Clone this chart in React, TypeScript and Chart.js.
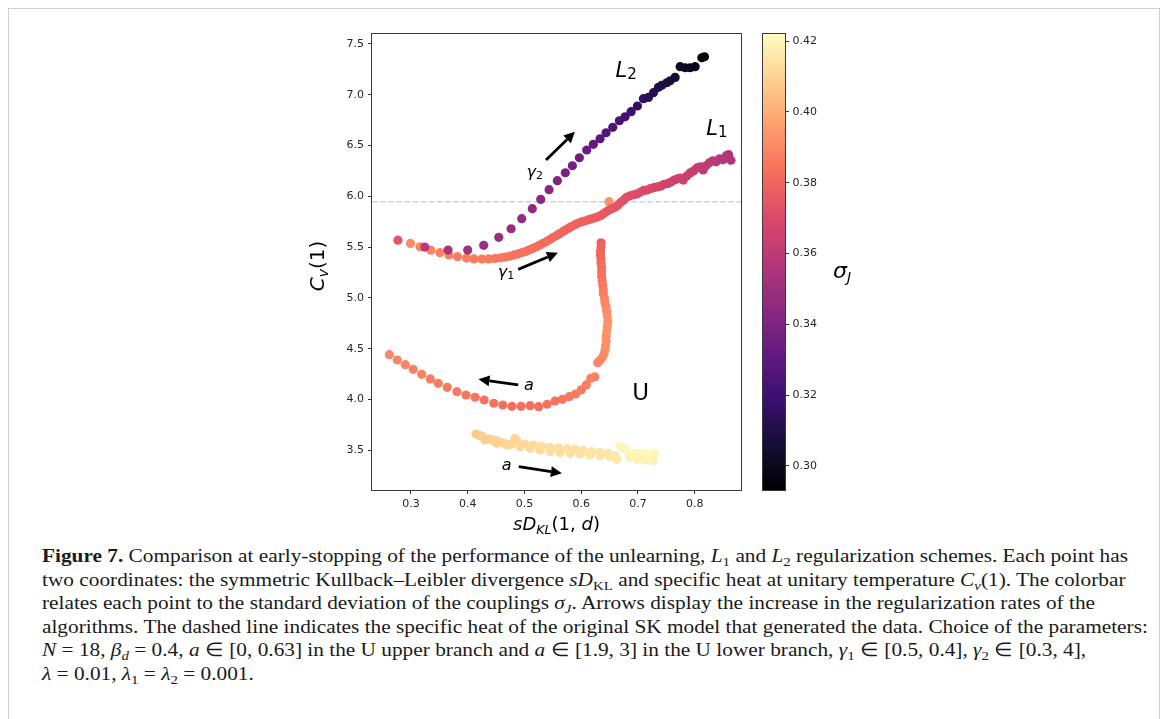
import React, { useEffect, useRef } from 'react';
import { Chart, registerables } from 'chart.js';

Chart.register(...registerables);

// ---------- data: sD_KL(1,d) on x, C_v(1) on y, sigma_J as colour ----------

// L1 regularization (gamma_1 sweep)
const L1_X = [0.277, 0.299, 0.316, 0.335, 0.351, 0.367, 0.382, 0.398, 0.411, 0.425, 0.437, 0.448, 0.458, 0.466, 0.474, 0.482, 0.489, 0.496, 0.503, 0.509, 0.515, 0.521, 0.527, 0.533, 0.539, 0.545, 0.550, 0.556, 0.561, 0.567, 0.572, 0.578, 0.583, 0.589, 0.594, 0.600, 0.606, 0.612, 0.618, 0.624, 0.630, 0.635, 0.640, 0.645, 0.650, 0.655, 0.660, 0.665, 0.670, 0.675, 0.680, 0.686, 0.692, 0.698, 0.704, 0.710, 0.716, 0.722, 0.728, 0.734, 0.740, 0.746, 0.752, 0.758, 0.764, 0.770, 0.775, 0.780, 0.786, 0.792, 0.798, 0.804, 0.810, 0.815, 0.820, 0.826, 0.832, 0.838, 0.844, 0.850, 0.856, 0.860, 0.864];
const L1_Y = [5.568, 5.536, 5.503, 5.470, 5.445, 5.423, 5.406, 5.392, 5.384, 5.383, 5.384, 5.389, 5.395, 5.402, 5.411, 5.423, 5.434, 5.446, 5.459, 5.474, 5.488, 5.503, 5.520, 5.538, 5.556, 5.575, 5.593, 5.612, 5.630, 5.650, 5.668, 5.687, 5.703, 5.720, 5.735, 5.748, 5.757, 5.768, 5.779, 5.788, 5.800, 5.812, 5.830, 5.850, 5.868, 5.880, 5.893, 5.915, 5.942, 5.965, 5.990, 6.005, 6.015, 6.022, 6.040, 6.058, 6.062, 6.075, 6.085, 6.093, 6.100, 6.118, 6.125, 6.140, 6.160, 6.172, 6.180, 6.160, 6.200, 6.230, 6.250, 6.280, 6.290, 6.260, 6.300, 6.330, 6.350, 6.340, 6.370, 6.360, 6.400, 6.410, 6.355];
const L1_SIGMA = [0.374, 0.391, 0.390, 0.389, 0.388, 0.388, 0.387, 0.387, 0.386, 0.386, 0.386, 0.385, 0.385, 0.385, 0.385, 0.384, 0.384, 0.384, 0.384, 0.383, 0.383, 0.383, 0.383, 0.382, 0.382, 0.382, 0.381, 0.381, 0.381, 0.380, 0.380, 0.380, 0.379, 0.379, 0.379, 0.378, 0.378, 0.378, 0.377, 0.377, 0.377, 0.376, 0.376, 0.376, 0.375, 0.375, 0.375, 0.374, 0.374, 0.373, 0.373, 0.372, 0.372, 0.371, 0.371, 0.370, 0.370, 0.369, 0.369, 0.368, 0.368, 0.367, 0.367, 0.366, 0.366, 0.365, 0.365, 0.364, 0.364, 0.363, 0.363, 0.362, 0.362, 0.361, 0.361, 0.360, 0.359, 0.359, 0.358, 0.357, 0.357, 0.356, 0.356];

// L2 regularization (gamma_2 sweep)
const L2_X = [0.3245, 0.3653, 0.4000, 0.4282, 0.4547, 0.4764, 0.4952, 0.5139, 0.5287, 0.5434, 0.5580, 0.5721, 0.5845, 0.5968, 0.6098, 0.6215, 0.6333, 0.6439, 0.6557, 0.6674, 0.6774, 0.6880, 0.6991, 0.7097, 0.7185, 0.7274, 0.7362, 0.7421, 0.7510, 0.7568, 0.7656, 0.7744, 0.7833, 0.7921, 0.8009, 0.8127, 0.8173];
const L2_Y = [5.500, 5.471, 5.471, 5.518, 5.596, 5.681, 5.780, 5.878, 5.970, 6.065, 6.154, 6.232, 6.301, 6.380, 6.456, 6.512, 6.567, 6.626, 6.679, 6.744, 6.783, 6.833, 6.889, 6.961, 6.974, 7.020, 7.073, 7.093, 7.118, 7.138, 7.171, 7.276, 7.266, 7.266, 7.276, 7.364, 7.374];
const L2_SIGMA = [0.359, 0.354, 0.352, 0.350, 0.349, 0.348, 0.347, 0.346, 0.345, 0.343, 0.341, 0.339, 0.337, 0.335, 0.333, 0.331, 0.329, 0.327, 0.325, 0.323, 0.321, 0.319, 0.317, 0.315, 0.313, 0.312, 0.310, 0.309, 0.308, 0.307, 0.305, 0.302, 0.301, 0.300, 0.299, 0.297, 0.296];

// unlearning, upper branch (a in [0, 0.63])
const UU_X = [0.649, 0.635, 0.635, 0.634, 0.634, 0.635, 0.635, 0.636, 0.636, 0.636, 0.637, 0.638, 0.639, 0.639, 0.641, 0.642, 0.644, 0.645, 0.646, 0.647, 0.646, 0.645, 0.644, 0.644, 0.643, 0.642, 0.640, 0.637, 0.633, 0.629, 0.624, 0.617, 0.609, 0.600, 0.590, 0.579, 0.567, 0.554, 0.540, 0.525, 0.510, 0.494, 0.478, 0.462, 0.446, 0.429, 0.413, 0.397, 0.381, 0.364, 0.348, 0.334, 0.319, 0.304, 0.290, 0.276, 0.262];
const UU_Y = [5.947, 5.543, 5.500, 5.460, 5.420, 5.380, 5.340, 5.300, 5.255, 5.210, 5.170, 5.125, 5.080, 5.040, 4.995, 4.950, 4.910, 4.865, 4.820, 4.770, 4.720, 4.670, 4.620, 4.575, 4.530, 4.485, 4.445, 4.410, 4.385, 4.362, 4.222, 4.209, 4.143, 4.094, 4.054, 4.028, 4.002, 3.985, 3.953, 3.929, 3.939, 3.933, 3.933, 3.946, 3.963, 3.995, 4.022, 4.044, 4.077, 4.120, 4.159, 4.202, 4.248, 4.297, 4.343, 4.389, 4.441];
const UU_SIGMA = [0.393, 0.378, 0.379, 0.380, 0.380, 0.381, 0.382, 0.383, 0.383, 0.384, 0.385, 0.386, 0.386, 0.387, 0.388, 0.389, 0.390, 0.391, 0.392, 0.393, 0.393, 0.393, 0.393, 0.392, 0.392, 0.392, 0.391, 0.391, 0.390, 0.390, 0.388, 0.388, 0.387, 0.386, 0.386, 0.385, 0.385, 0.384, 0.384, 0.383, 0.383, 0.383, 0.383, 0.383, 0.384, 0.384, 0.385, 0.385, 0.386, 0.386, 0.387, 0.387, 0.388, 0.388, 0.389, 0.389, 0.390];

// unlearning, lower branch (a in [1.9, 3])
const UL_X = [0.4146, 0.4205, 0.4264, 0.4305, 0.4381, 0.4440, 0.4511, 0.4511, 0.4580, 0.4640, 0.4688, 0.4760, 0.4834, 0.4864, 0.4922, 0.5011, 0.5099, 0.5157, 0.5275, 0.5305, 0.5451, 0.5451, 0.5598, 0.5628, 0.5746, 0.5804, 0.5892, 0.5981, 0.6039, 0.6157, 0.6187, 0.6333, 0.6333, 0.6480, 0.6510, 0.6598, 0.6628, 0.6686, 0.6745, 0.6804, 0.6862, 0.6921, 0.6981, 0.7039, 0.7127, 0.7157, 0.7273, 0.7303];
const UL_Y = [3.660, 3.648, 3.634, 3.601, 3.611, 3.600, 3.594, 3.569, 3.578, 3.569, 3.552, 3.560, 3.618, 3.594, 3.535, 3.562, 3.520, 3.552, 3.503, 3.542, 3.530, 3.486, 3.523, 3.476, 3.516, 3.470, 3.510, 3.464, 3.496, 3.454, 3.486, 3.480, 3.447, 3.470, 3.437, 3.447, 3.411, 3.542, 3.522, 3.503, 3.431, 3.470, 3.411, 3.470, 3.405, 3.464, 3.398, 3.470];
const UL_SIGMA = [0.408, 0.408, 0.409, 0.409, 0.409, 0.409, 0.410, 0.410, 0.410, 0.410, 0.411, 0.411, 0.411, 0.411, 0.411, 0.412, 0.412, 0.412, 0.412, 0.413, 0.413, 0.413, 0.413, 0.413, 0.414, 0.414, 0.414, 0.414, 0.414, 0.415, 0.415, 0.415, 0.415, 0.415, 0.416, 0.416, 0.416, 0.420, 0.420, 0.420, 0.419, 0.420, 0.419, 0.420, 0.419, 0.420, 0.419, 0.420];

// specific heat of the original SK model
const SK_CV = 5.947;

// axes
const X_RANGE = [0.2313, 0.8817];
const Y_RANGE = [3.109, 7.598];
const X_TICKS = [0.3, 0.4, 0.5, 0.6, 0.7, 0.8];
const Y_TICKS = [3.5, 4.0, 4.5, 5.0, 5.5, 6.0, 6.5, 7.0, 7.5];
const SIGMA_RANGE = [0.2932, 0.4220];
const CB_TICKS = [0.30, 0.32, 0.34, 0.36, 0.38, 0.40, 0.42];

// arrows (data coordinates, tail -> head)
const ARROWS = [
  { from: [0.538, 6.357], to: [0.589, 6.636] },
  { from: [0.489, 5.281], to: [0.559, 5.445] },
  { from: [0.489, 4.143], to: [0.419, 4.199] },
  { from: [0.490, 3.339], to: [0.566, 3.274] },
];

// ---------- colour map ----------
const MAGMA = ['#000004', '#140e36', '#3b0f70', '#641a80', '#8c2981', '#b73779', '#de4968', '#f7705c', '#fe9f6d', '#fecf92', '#fcfdbf'];

function hexToRgb(h: string) {
  return [parseInt(h.slice(1, 3), 16), parseInt(h.slice(3, 5), 16), parseInt(h.slice(5, 7), 16)];
}

function magma(t: number) {
  const c = Math.min(1, Math.max(0, t)) * (MAGMA.length - 1);
  const i = Math.min(MAGMA.length - 2, Math.floor(c));
  const f = c - i;
  const a = hexToRgb(MAGMA[i]);
  const b = hexToRgb(MAGMA[i + 1]);
  const m = a.map((v, k) => Math.round(v + (b[k] - v) * f));
  return `rgb(${m[0]},${m[1]},${m[2]})`;
}

const sigmaColor = (s: number) => magma((s - SIGMA_RANGE[0]) / (SIGMA_RANGE[1] - SIGMA_RANGE[0]));

// ---------- drawing helpers ----------
const FONT = '"DejaVu Sans"';
const ital = (px: number) => `italic ${px}px ${FONT}`;
const roman = (px: number) => `${px}px ${FONT}`;

type Run = { t: string; font: string; dy?: number };

function drawRuns(ctx: CanvasRenderingContext2D, runs: Run[], x: number, y: number, align: 'left' | 'center') {
  const widths = runs.map((r) => {
    ctx.font = r.font;
    return ctx.measureText(r.t).width;
  });
  const total = widths.reduce((a, b) => a + b, 0);
  let cx = align === 'center' ? x - total / 2 : x;
  ctx.textAlign = 'left';
  ctx.textBaseline = 'alphabetic';
  runs.forEach((r, i) => {
    ctx.font = r.font;
    ctx.fillText(r.t, cx, y + (r.dy || 0));
    cx += widths[i];
  });
}

function drawArrow(ctx: CanvasRenderingContext2D, x0: number, y0: number, x1: number, y1: number) {
  const ang = Math.atan2(y1 - y0, x1 - x0);
  const headLen = 11;
  const headW = 5.4;
  const bx = x1 - headLen * Math.cos(ang);
  const by = y1 - headLen * Math.sin(ang);
  ctx.beginPath();
  ctx.moveTo(x0, y0);
  ctx.lineTo(bx, by);
  ctx.lineWidth = 2.8;
  ctx.strokeStyle = '#000';
  ctx.stroke();
  ctx.beginPath();
  ctx.moveTo(x1, y1);
  ctx.lineTo(bx + headW * Math.sin(ang), by - headW * Math.cos(ang));
  ctx.lineTo(bx - headW * Math.sin(ang), by + headW * Math.cos(ang));
  ctx.closePath();
  ctx.fillStyle = '#000';
  ctx.fill();
}

const decorPlugin = {
  id: 'figureDecor',
  beforeDatasetsDraw(chart: any) {
    const { ctx, chartArea, scales } = chart;
    const yy = scales.y.getPixelForValue(SK_CV);
    ctx.save();
    ctx.strokeStyle = '#d0d0d0';
    ctx.lineWidth = 1.4;
    ctx.setLineDash([5.5, 2.6]);
    ctx.beginPath();
    ctx.moveTo(chartArea.left, yy);
    ctx.lineTo(chartArea.right, yy);
    ctx.stroke();
    ctx.restore();
  },
  afterDatasetsDraw(chart: any) {
    const { ctx, chartArea, scales } = chart;
    const px = (v: number) => scales.x.getPixelForValue(v);
    const py = (v: number) => scales.y.getPixelForValue(v);
    ctx.save();
    ARROWS.forEach((a) => drawArrow(ctx, px(a.from[0]), py(a.from[1]), px(a.to[0]), py(a.to[1])));
    ctx.fillStyle = '#000';
    drawRuns(ctx, [{ t: 'L', font: ital(21) }, { t: '2', font: roman(15), dy: 2 }], px(0.6605), py(7.174), 'left');
    drawRuns(ctx, [{ t: 'L', font: ital(21) }, { t: '1', font: roman(15), dy: 2 }], px(0.8205), py(6.603), 'left');
    drawRuns(ctx, [{ t: 'U', font: roman(23) }], px(0.7048), py(3.995), 'center');
    drawRuns(ctx, [{ t: 'γ', font: ital(16) }, { t: '2', font: roman(11), dy: 2 }], px(0.5035), py(6.195), 'left');
    drawRuns(ctx, [{ t: 'γ', font: ital(16) }, { t: '1', font: roman(11), dy: 2 }], px(0.4528), py(5.206), 'left');
    drawRuns(ctx, [{ t: 'a', font: ital(16) }], px(0.4993), py(4.094), 'left');
    drawRuns(ctx, [{ t: 'a', font: ital(16) }], px(0.4600), py(3.306), 'left');

    // axes frame
    ctx.strokeStyle = '#3a3a3a';
    ctx.lineWidth = 1;
    ctx.strokeRect(chartArea.left - 0.5, chartArea.top - 0.5, chartArea.right - chartArea.left + 1, chartArea.bottom - chartArea.top + 1);
    ctx.restore();
  },
  afterDraw(chart: any) {
    const { ctx, chartArea } = chart;
    ctx.save();
    ctx.fillStyle = '#000';
    const cx = (chartArea.left + chartArea.right) / 2;
    drawRuns(
      ctx,
      [
        { t: 's', font: ital(18) },
        { t: 'D', font: ital(18) },
        { t: 'KL', font: ital(12.6), dy: 3.5 },
        { t: '(1, ', font: roman(18) },
        { t: 'd', font: ital(18) },
        { t: ')', font: roman(18) },
      ],
      cx,
      chartArea.bottom + 40,
      'center'
    );
    ctx.translate(chartArea.left - 48, (chartArea.top + chartArea.bottom) / 2 + 4);
    ctx.rotate(-Math.PI / 2);
    drawRuns(
      ctx,
      [
        { t: 'C', font: ital(20) },
        { t: 'v', font: ital(14), dy: 4 },
        { t: '(1)', font: roman(20) },
      ],
      0,
      0,
      'center'
    );
    ctx.restore();
  },
};

const colorbarPlugin = {
  id: 'colorbar',
  beforeDatasetsDraw(chart: any) {
    const { ctx, chartArea } = chart;
    const g = ctx.createLinearGradient(0, chartArea.bottom, 0, chartArea.top);
    MAGMA.forEach((c, i) => g.addColorStop(i / (MAGMA.length - 1), c));
    ctx.save();
    ctx.fillStyle = g;
    ctx.fillRect(chartArea.left, chartArea.top, chartArea.right - chartArea.left, chartArea.bottom - chartArea.top);
    ctx.strokeStyle = '#3a3a3a';
    ctx.lineWidth = 1;
    ctx.strokeRect(chartArea.left - 0.5, chartArea.top - 0.5, chartArea.right - chartArea.left + 1, chartArea.bottom - chartArea.top + 1);
    ctx.fillStyle = '#000';
    drawRuns(ctx, [{ t: 'σ', font: ital(22) }, { t: 'J', font: ital(14), dy: 4 }], chartArea.right + 48, 258, 'left');
    ctx.restore();
  },
};

const tickFont = { family: 'DejaVu Sans', size: 11 };
const tickGrid = { display: true, drawOnChartArea: false, drawTicks: true, tickLength: 4, color: '#333', lineWidth: 1 };

function ScatterFigure() {
  const ref = useRef<HTMLCanvasElement>(null);
  useEffect(() => {
    if (!ref.current) return;
    const ds = (xs: number[], ys: number[], ss: number[]) => ({
      data: xs.map((x, i) => ({ x, y: ys[i] })),
      backgroundColor: ss.map(sigmaColor),
      borderWidth: 0,
      pointRadius: 4.6,
      pointHoverRadius: 4.6,
    });
    const chart = new Chart(ref.current, {
      type: 'scatter',
      data: {
        // first dataset is drawn on top
        datasets: [ds(L2_X, L2_Y, L2_SIGMA), ds(L1_X, L1_Y, L1_SIGMA), ds(UL_X, UL_Y, UL_SIGMA), ds(UU_X, UU_Y, UU_SIGMA)] as any,
      },
      options: {
        responsive: false,
        animation: false,
        events: [],
        layout: { padding: { left: 22, right: 19, top: 14, bottom: 10 } },
        scales: {
          x: {
            type: 'linear',
            min: X_RANGE[0],
            max: X_RANGE[1],
            afterFit: (s: any) => { s.height = 40; },
            afterBuildTicks: (s: any) => { s.ticks = X_TICKS.map((v) => ({ value: v })); },
            grid: tickGrid,
            border: { display: false },
            ticks: { font: tickFont, color: '#262626', padding: 4, maxRotation: 0, autoSkip: false, callback: (v: any) => Number(v).toFixed(1) },
          },
          y: {
            type: 'linear',
            min: Y_RANGE[0],
            max: Y_RANGE[1],
            afterFit: (s: any) => { s.width = 50; },
            afterBuildTicks: (s: any) => { s.ticks = Y_TICKS.map((v) => ({ value: v })); },
            grid: tickGrid,
            border: { display: false },
            ticks: { font: tickFont, color: '#262626', padding: 4, autoSkip: false, callback: (v: any) => Number(v).toFixed(1) },
          },
        },
        plugins: { legend: { display: false }, tooltip: { enabled: false } },
      } as any,
      plugins: [decorPlugin],
    });
    return () => chart.destroy();
  }, []);
  return <canvas ref={ref} width={460} height={520} style={{ position: 'absolute', left: 291, top: 11, width: 460, height: 520 }} />;
}

function Colorbar() {
  const ref = useRef<HTMLCanvasElement>(null);
  useEffect(() => {
    if (!ref.current) return;
    const chart = new Chart(ref.current, {
      type: 'scatter',
      data: { datasets: [{ data: [] }] },
      options: {
        responsive: false,
        animation: false,
        events: [],
        layout: { padding: { left: 23, right: 25, top: 14, bottom: 30 } },
        scales: {
          x: { display: false },
          y: {
            position: 'right',
            min: SIGMA_RANGE[0],
            max: SIGMA_RANGE[1],
            afterFit: (s: any) => { s.width = 50; },
            afterBuildTicks: (s: any) => { s.ticks = CB_TICKS.map((v) => ({ value: v })); },
            grid: tickGrid,
            border: { display: false },
            ticks: { font: tickFont, color: '#262626', padding: 3.5, autoSkip: false, callback: (v: any) => Number(v).toFixed(2) },
          },
        },
        plugins: { legend: { display: false }, tooltip: { enabled: false } },
      } as any,
      plugins: [colorbarPlugin],
    });
    return () => chart.destroy();
  }, []);
  return <canvas ref={ref} width={120} height={500} style={{ position: 'absolute', left: 731, top: 11, width: 120, height: 500 }} />;
}

const Sub = ({ children }: { children: React.ReactNode }) => (
  <sub style={{ fontSize: '0.7em', verticalAlign: '-0.28em', lineHeight: 0 }}>{children}</sub>
);

const CAPTION_LINE_1_WIDTH = 1086;

function Caption() {
  const box = useRef<HTMLDivElement>(null);
  useEffect(() => {
    const el = box.current;
    if (!el) return;
    const lines = Array.from(el.children) as HTMLElement[];
    const k = CAPTION_LINE_1_WIDTH / lines[0].getBoundingClientRect().width;
    el.style.transform = `scaleX(${k})`;
  }, []);
  const line: React.CSSProperties = { display: 'block', width: 'max-content', whiteSpace: 'nowrap' };
  return (
    <div
      ref={box}
      style={{
        position: 'absolute',
        left: 33,
        top: 535,
        fontFamily: '"Liberation Serif", "Times New Roman", serif',
        fontSize: 19,
        lineHeight: '23.6px',
        color: '#1a1a1a',
        transformOrigin: '0 0',
      }}
    >
      <span style={line}>
        <b>Figure 7.</b> Comparison at early-stopping of the performance of the unlearning, <i>L</i><Sub>1</Sub> and <i>L</i><Sub>2</Sub> regularization schemes. Each point has
      </span>
      <span style={line}>
        two coordinates: the symmetric Kullback–Leibler divergence <i>sD</i><Sub>KL</Sub> and specific heat at unitary temperature <i>C<Sub>v</Sub></i>(1). The colorbar
      </span>
      <span style={line}>
        relates each point to the standard deviation of the couplings <i>σ<Sub>J</Sub></i>. Arrows display the increase in the regularization rates of the
      </span>
      <span style={line}>
        algorithms. The dashed line indicates the specific heat of the original SK model that generated the data. Choice of the parameters:
      </span>
      <span style={line}>
        <i>N</i> = 18, <i>β<Sub>d</Sub></i> = 0.4, <i>a</i> ∈ [0, 0.63] in the U upper branch and <i>a</i> ∈ [1.9, 3] in the U lower branch, <i>γ</i><Sub>1</Sub> ∈ [0.5, 0.4], <i>γ</i><Sub>2</Sub> ∈ [0.3, 4],
      </span>
      <span style={line}>
        <i>λ</i> = 0.01, <i>λ</i><Sub>1</Sub> = <i>λ</i><Sub>2</Sub> = 0.001.
      </span>
    </div>
  );
}

export default function App() {
  return (
    <div
      style={{
        position: 'relative',
        width: 1152,
        height: 711,
        boxSizing: 'border-box',
        borderTop: '1px solid #cfcfcf',
        borderLeft: '1px solid #cfcfcf',
        borderRight: '1px solid #cfcfcf',
        background: '#fff',
        overflow: 'hidden',
      }}
    >
      <ScatterFigure />
      <Colorbar />
      <Caption />
    </div>
  );
}
